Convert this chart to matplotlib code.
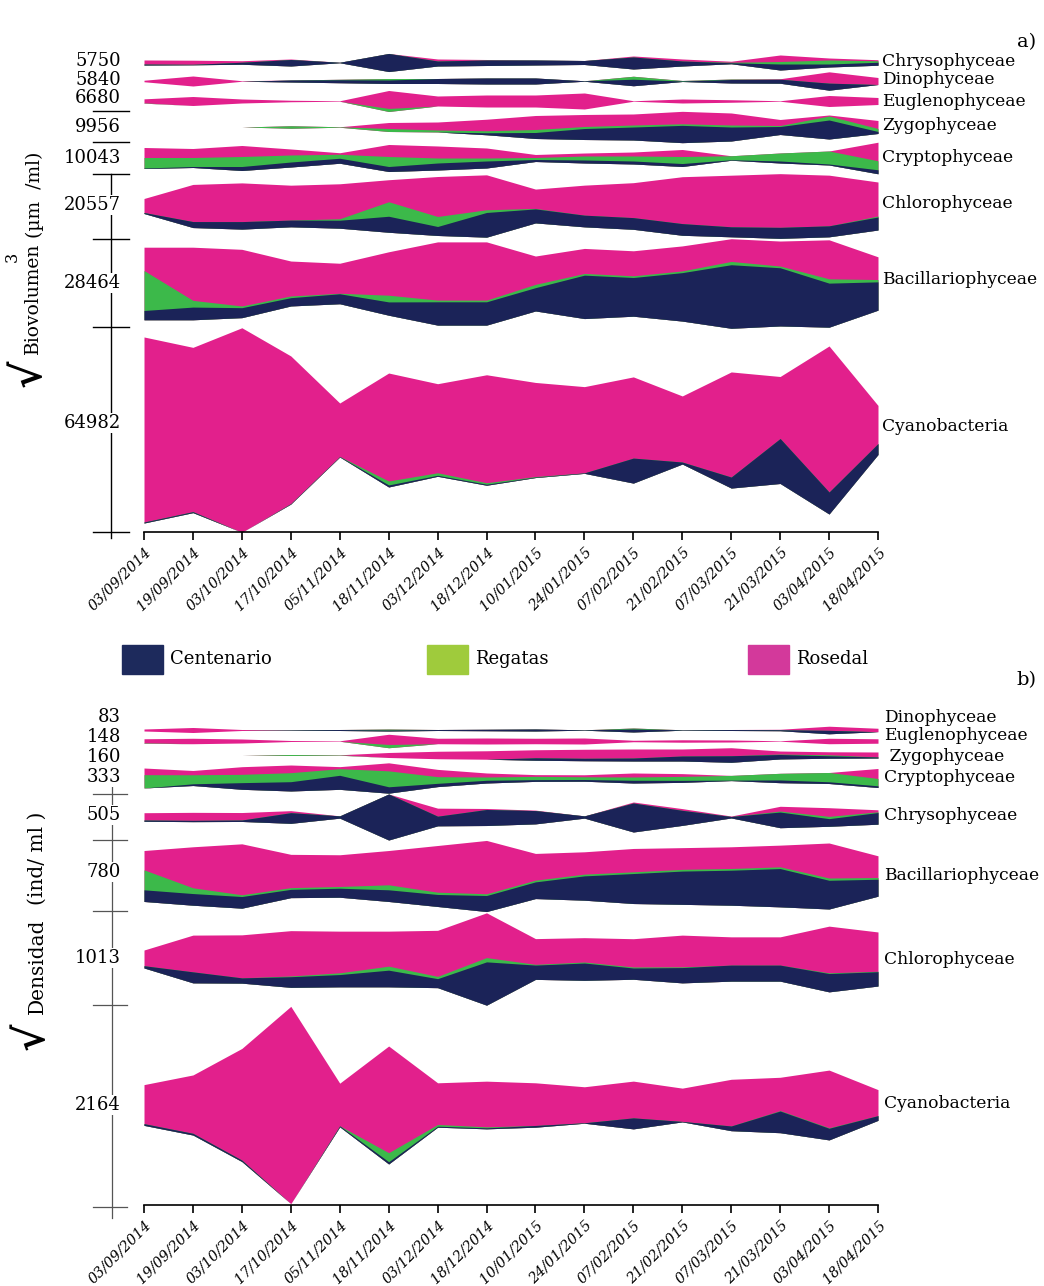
import numpy as np
import matplotlib
matplotlib.use('Agg')
import matplotlib.pyplot as plt
from matplotlib.lines import Line2D
from matplotlib.patches import Rectangle

plt.rcParams['font.family'] = 'DejaVu Serif'

dates = ['03/09/2014', '19/09/2014', '03/10/2014', '17/10/2014', '05/11/2014',
         '18/11/2014', '03/12/2014', '18/12/2014', '10/01/2015', '24/01/2015',
         '07/02/2015', '21/02/2015', '07/03/2015', '21/03/2015', '03/04/2015',
         '18/04/2015']

sites = ['Centenario', 'Regatas', 'Rosedal']
site_colors = ['#1b2358', '#3cb94a', '#e2208c']
legend_colors = ['#1d2a5c', '#9fcb3c', '#d3399b']

# a) sqrt biovolume, thousands of um3/ml -- rows: Centenario, Regatas, Rosedal
bio_chryso = [[0.3, 0.16, 0.64, 2.07, 0.16, 5.75, 1.59, 1.75, 1.59, 1.27, 3.82, 1.59, 0.32, 1.91, 0.95, 0.95],
              [0, 0, 0, 0, 0, 0, 0, 0, 0, 0, 0, 0, 0.16, 0.8, 1.27, 0.48],
              [1.3, 1.3, 0.48, 0.16, 0, 0, 0.64, 0.16, 0, 0, 0.32, 0.64, 0.32, 2.07, 0.64, 0.32]]
bio_dino = [[0, 0, 0, 0.64, 0.95, 1.11, 1.59, 1.91, 1.91, 0.16, 2.07, 0.16, 1.11, 1.27, 2.24, 0],
            [0, 0, 0, 0, 0.16, 0.48, 0, 0, 0, 0, 0.95, 0.16, 0.16, 0, 0, 0],
            [0.48, 3.18, 0.16, 0, 0, 0, 0, 0, 0, 0, 0, 0, 0, 0.16, 3.6, 2.23]]
bio_eugl = [[0] * 16,
            [0.1, 0, 0, 0, 0, 0.98, 0, 0, 0, 0, 0, 0, 0, 0, 0, 0],
            [1.27, 2.86, 1.27, 0.48, 0.16, 5.7, 3.18, 3.82, 3.82, 5.09, 0.16, 1.27, 0.8, 0.16, 3.5, 2.23]]
bio_zygo = [[0, 0, 0, 0, 0, 0, 0, 0.64, 1.91, 3.5, 4.13, 5.5, 4.45, 2.54, 6.04, 0.64],
            [0, 0, 0, 0.8, 0.16, 0.95, 0.64, 0.64, 0.95, 0.64, 0.64, 0.5, 0.64, 0.32, 1.27, 0.95],
            [0, 0, 0, 0, 0, 1.91, 2.54, 3.66, 4.45, 3.82, 3.5, 3.96, 3.82, 1.91, 0.32, 2.54]]
bio_crypto = [[0.16, 0.32, 1.27, 1.59, 1.59, 1.59, 2.23, 2.23, 0.64, 0.95, 0.95, 0.95, 0.16, 0.64, 0.32, 1.27],
              [3.34, 2.86, 3.18, 2.23, 1.27, 3.18, 1.59, 0.95, 0.64, 1.27, 1.59, 2.23, 1.27, 2.54, 4.13, 2.86],
              [3.18, 2.86, 3.5, 1.91, 0.48, 3.82, 3.82, 3.18, 0.95, 0.95, 1.27, 2.23, 0, 0, 0, 5.9]]
bio_chloro = [[0.32, 1.91, 2.39, 2.13, 2.54, 5.09, 2.86, 7.85, 4.45, 3.72, 3.72, 3.72, 3.18, 3.5, 3.5, 4.13],
              [0, 0, 0, 0, 0.48, 4.61, 3.18, 0.86, 0.16, 0, 0, 0, 0, 0, 0, 0.32],
              [4.45, 11.8, 12.3, 11.1, 11.1, 7.0, 12.7, 11.1, 6.14, 9.54, 11.1, 14.9, 16.4, 17.06, 16.1, 10.8]]
bio_bacil = [[2.96, 4.04, 3.18, 2.64, 3.18, 4.23, 7.41, 7.41, 7.41, 13.8, 12.3, 15.4, 20.2, 18.5, 14.0, 9.0],
             [12.7, 2.13, 0.54, 0.54, 0.16, 2.13, 0.54, 0.54, 1.05, 0.54, 0.54, 0.54, 1.05, 0.54, 1.37, 0.73],
             [7.41, 16.9, 18.0, 11.1, 9.54, 13.8, 18.5, 18.5, 9.0, 7.95, 7.95, 7.95, 7.22, 7.95, 12.4, 7.22]]
bio_cyano = [[0.32, 0.32, 0, 0.16, 0.16, 0.64, 0.32, 0.32, 0.16, 0.16, 7.95, 0.64, 3.5, 14.3, 7.0, 3.5],
             [0, 0, 0, 0, 0, 1.27, 0.8, 0.48, 0.16, 0, 0, 0, 0, 0, 0, 0],
             [58.8, 52.2, 64.98, 46.9, 17.0, 34.3, 28.3, 34.3, 29.9, 27.4, 25.8, 21.0, 33.4, 19.7, 46.4, 12.1]]

# b) sqrt density, ind/ml
den_dino = [[0, 0, 0, 5, 11, 11, 11, 16, 22, 5, 33, 5, 11, 11, 38, 0],
            [0, 0, 0, 0, 0, 11, 0, 0, 0, 0, 11, 0, 0, 0, 0, 0],
            [22, 55, 11, 0, 0, 0, 0, 0, 0, 0, 0, 0, 0, 5, 45, 38]]
den_eugl = [[0] * 16,
            [5, 0, 0, 0, 0, 36, 0, 0, 0, 0, 0, 0, 0, 0, 0, 0],
            [44, 60, 44, 11, 5, 112, 60, 66, 60, 66, 16, 27, 22, 5, 60, 49]]
den_zygo = [[0, 0, 0, 0, 0, 0, 0, 0, 27, 27, 33, 55, 72, 49, 27, 11],
            [0, 0, 0, 11, 5, 0, 0, 0, 0, 0, 0, 0, 0, 5, 11, 0],
            [0, 0, 0, 0, 0, 55, 82, 93, 88, 99, 99, 77, 88, 33, 33, 55]]
den_crypto = [[0, 19, 73, 102, 154, 70, 36, 30, 19, 19, 30, 22, 5, 30, 19, 19],
              [146, 99, 91, 99, 73, 175, 73, 36, 36, 30, 36, 44, 52, 73, 102, 80],
              [73, 47, 84, 84, 22, 88, 80, 44, 19, 22, 44, 30, 0, 0, 0, 110]]
den_chryso = [[14, 14, 16, 117, 25, 505, 106, 176, 146, 25, 318, 165, 16, 172, 84, 128],
              [0, 0, 0, 0, 0, 0, 0, 0, 0, 0, 0, 0, 0, 11, 25, 8],
              [80, 88, 82, 22, 0, 0, 88, 11, 5, 0, 11, 19, 5, 52, 95, 22]]
den_bacil = [[128, 128, 128, 91, 99, 128, 132, 176, 183, 267, 329, 365, 384, 420, 315, 186],
             [219, 63, 19, 19, 19, 55, 25, 19, 19, 19, 19, 19, 19, 19, 25, 19],
             [212, 450, 559, 365, 348, 376, 512, 585, 293, 245, 256, 238, 238, 238, 384, 238]]
den_chloro = [[25, 121, 58, 117, 135, 183, 99, 475, 157, 190, 124, 168, 176, 176, 201, 157],
              [0, 0, 0, 8, 19, 44, 25, 47, 8, 11, 11, 8, 0, 0, 8, 5],
              [172, 403, 472, 497, 457, 384, 505, 491, 282, 267, 310, 348, 310, 310, 512, 431]]
den_cyano = [[19, 19, 16, 0, 11, 25, 11, 11, 19, 5, 121, 5, 52, 238, 128, 52],
             [0, 0, 0, 0, 0, 99, 19, 11, 0, 0, 0, 0, 0, 5, 5, 0],
             [428, 640, 1225, 2164, 468, 1170, 457, 501, 468, 395, 403, 365, 512, 365, 633, 285]]

# group name, data, max label ; layout in pixels: band centre, label y, name y
groups_a = [('Chrysophyceae', bio_chryso, '5750', 62.5, 61, 61),
            ('Dinophyceae', bio_dino, '5840', 81, 80, 80),
            ('Euglenophyceae', bio_eugl, '6680', 101, 98, 102),
            ('Zygophyceae', bio_zygo, '9956', 127, 127, 126),
            ('Cryptophyceae', bio_crypto, '10043', 158, 158, 157),
            ('Chlorophyceae', bio_chloro, '20557', 206, 205, 204),
            ('Bacillariophyceae', bio_bacil, '28464', 283.5, 283, 279),
            ('Cyanobacteria', bio_cyano, '64982', 430, 423, 427)]
groups_b = [('Dinophyceae', den_dino, '83', 730, 717, 717),
            ('Euglenophyceae', den_eugl, '148', 741, 737, 736),
            (' Zygophyceae', den_zygo, '160', 755, 757, 756),
            ('Cryptophyceae', den_crypto, '333', 778, 777, 777),
            ('Chrysophyceae', den_chryso, '505', 817, 815, 816),
            ('Bacillariophyceae', den_bacil, '780', 876, 872, 876),
            ('Chlorophyceae', den_chloro, '1013', 959, 958, 959),
            ('Cyanobacteria', den_cyano, '2164', 1105, 1105, 1104)]

W, H = 1044, 1286
fig = plt.figure(figsize=(W / 100, H / 100), dpi=100)
X0, X1 = 144, 878


def fx(px):
    return px / W


def fy(py):
    return 1 - py / H


def panel(top, bottom, k):
    ax = fig.add_axes([fx(X0), fy(bottom), (X1 - X0) / W, (bottom - top) / H])
    ax.set_xlim(0, len(dates) - 1)
    ax.set_ylim(0, (bottom - top) * k)
    for s in ['left', 'top', 'right']:
        ax.spines[s].set_visible(False)
    ax.spines['bottom'].set_linewidth(1.2)
    ax.set_yticks([])
    ax.set_xticks(range(len(dates)))
    ax.set_xticklabels(dates, rotation=45, ha='right', va='top',
                       rotation_mode='anchor', fontsize=10.3, style='italic')
    ax.tick_params(axis='x', length=6, width=1.2, pad=3)
    return ax


def kite(ax, yc, rows):
    x = np.arange(len(dates))
    rows = np.array(rows, dtype=float)
    base = yc - rows.sum(axis=0) / 2
    tops = base + np.cumsum(rows, axis=0)
    # draw from the top layer down so the layers overlap without seams
    for i in [2, 1, 0]:
        ax.fill_between(x, base, tops[i], color=site_colors[i], lw=0)


def draw(groups, top, bottom, k, name_x):
    ax = panel(top, bottom, k)
    for name, rows, lab, c, ly, ny in groups:
        kite(ax, (bottom - c) * k, rows)
        fig.text(fx(121), fy(ly), lab, ha='right', va='center', fontsize=13,
                 bbox=dict(fc='white', ec='none', pad=0.5))
        fig.text(fx(name_x), fy(ny), name, ha='left', va='center', fontsize=12.3)
    return ax


def hline(y, x0, x1, color='black', lw=1.0):
    fig.add_artist(Line2D([fx(x0), fx(x1)], [fy(y), fy(y)], color=color, lw=lw, zorder=1))


def vline(x, y0, y1, color='black', lw=1.0):
    fig.add_artist(Line2D([fx(x), fx(x)], [fy(y0), fy(y1)], color=color, lw=lw, zorder=1))


# left scale bars
for y in [111, 142, 174, 239, 327, 532]:
    hline(y, 93, 129)
vline(111, 174, 538)
for y in [794, 840, 911, 1005, 1207]:
    hline(y, 93, 127, color='#555555', lw=0.9)
vline(112, 787, 1218, color='#555555', lw=0.9)

ax_a = draw(groups_a, 40, 532, 64.982 / 204.5, 882)
ax_b = draw(groups_b, 700, 1205, 2164 / 197.3, 884)

# y axis titles
fig.text(fx(29), fy(373), '\u221a', rotation=90, ha='center', va='center', fontsize=30, fontweight='bold')
fig.text(fx(33), fy(298), 'Biovolumen', rotation=90, ha='center', va='center', fontsize=13.5)
fig.text(fx(12), fy(257), '3', rotation=90, ha='center', va='center', fontsize=11.5)
fig.text(fx(35), fy(195), '(\u00b5m  /ml)', rotation=90, ha='center', va='center', fontsize=13.5)

fig.text(fx(32), fy(1036), '\u221a', rotation=90, ha='center', va='center', fontsize=30, fontweight='bold')
fig.text(fx(37), fy(966), 'Densidad', rotation=90, ha='center', va='center', fontsize=14.5)
fig.text(fx(37), fy(858), '(ind/ ml )', rotation=90, ha='center', va='center', fontsize=14.5)

fig.text(fx(1036), fy(42), 'a)', ha='right', va='center', fontsize=14)
fig.text(fx(1036), fy(680), 'b)', ha='right', va='center', fontsize=14)

# legend
for name, col, x in zip(sites, legend_colors, [122, 427, 748]):
    fig.add_artist(Rectangle((fx(x), fy(674)), 41 / W, 29 / H, color=col,
                             transform=fig.transFigure))
    fig.text(fx(x + 48), fy(659), name, ha='left', va='center', fontsize=13)

fig.savefig('out.png', dpi=100)
